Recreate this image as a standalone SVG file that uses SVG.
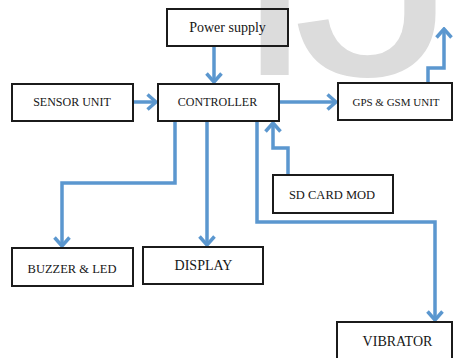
<svg xmlns="http://www.w3.org/2000/svg" width="455" height="358" viewBox="0 0 455 358">
  <style>
    .box { fill: none; stroke: #1b1b1b; stroke-width: 2; }
    .lbl { font-family: "Liberation Serif", "Times New Roman", serif; fill: #161616; text-anchor: middle; }
    .wire { fill: none; stroke: #5b97cf; stroke-width: 3.5; stroke-linejoin: miter; }
    .wm { font-family: "Liberation Sans", Arial, sans-serif; font-size: 300px; fill: #dcdcdc; }
  </style>
  <defs>
    <marker id="arrow" viewBox="-12 -10 14 20" refX="0" refY="0" markerUnits="userSpaceOnUse" markerWidth="14" markerHeight="20" orient="auto">
      <path d="M -8.5,-7.5 L 0,0 L -8.5,7.5" fill="none" stroke="#5b97cf" stroke-width="3.5"/>
    </marker>
    <clipPath id="wm-clip">
      <rect x="0" y="0" width="455" height="80"/>
    </clipPath>
  </defs>

  <rect width="455" height="358" fill="#ffffff"/>

  <!-- background watermark -->
  <g id="watermark" clip-path="url(#wm-clip)">
    <text class="wm" x="233" y="75">I</text>
    <text class="wm" x="-25.5" y="75" transform="translate(321 0) scale(1.12 1)">J</text>
  </g>

  <!-- connectors -->
  <g id="connectors">
    <path class="wire" d="M 214 46 V 82" marker-end="url(#arrow)"/>
    <path class="wire" d="M 133 102 H 156" marker-end="url(#arrow)"/>
    <path class="wire" d="M 280 102 H 336" marker-end="url(#arrow)"/>
    <path class="wire" d="M 428 83 V 68 H 444 V 29" marker-end="url(#arrow)"/>
    <path class="wire" d="M 175 121 V 183 H 62 V 246" marker-end="url(#arrow)"/>
    <path class="wire" d="M 207 121 V 245" marker-end="url(#arrow)"/>
    <path class="wire" d="M 257 121 V 222 H 435 V 320" marker-end="url(#arrow)"/>
    <path class="wire" d="M 288 175 V 148 H 273 V 123" marker-end="url(#arrow)"/>
  </g>

  <!-- nodes -->
  <g id="power-supply">
    <rect class="box" x="167" y="9" width="121" height="37"/>
    <text class="lbl" x="227.5" y="32" font-size="14">Power supply</text>
  </g>
  <g id="sensor-unit">
    <rect class="box" x="12" y="84" width="121" height="37"/>
    <text class="lbl" x="72" y="106" font-size="12">SENSOR UNIT</text>
  </g>
  <g id="controller">
    <rect class="box" x="158" y="84" width="121" height="37"/>
    <text class="lbl" x="217.5" y="106" font-size="12">CONTROLLER</text>
  </g>
  <g id="gps-gsm-unit">
    <rect class="box" x="338" y="83" width="114" height="37"/>
    <text class="lbl" x="396" y="106" font-size="11">GPS &amp; GSM UNIT</text>
  </g>
  <g id="sd-card-mod">
    <rect class="box" x="273" y="175" width="120" height="38"/>
    <text class="lbl" x="332" y="199" font-size="12.5">SD CARD MOD</text>
  </g>
  <g id="buzzer-led">
    <rect class="box" x="12" y="248" width="121" height="38"/>
    <text class="lbl" x="72" y="273" font-size="12.5">BUZZER &amp; LED</text>
  </g>
  <g id="display">
    <rect class="box" x="143" y="247" width="120" height="37"/>
    <text class="lbl" x="203.5" y="270" font-size="14">DISPLAY</text>
  </g>
  <g id="vibrator">
    <rect class="box" x="337" y="322" width="115" height="48"/>
    <text class="lbl" x="397.5" y="346" font-size="14">VIBRATOR</text>
  </g>
</svg>
